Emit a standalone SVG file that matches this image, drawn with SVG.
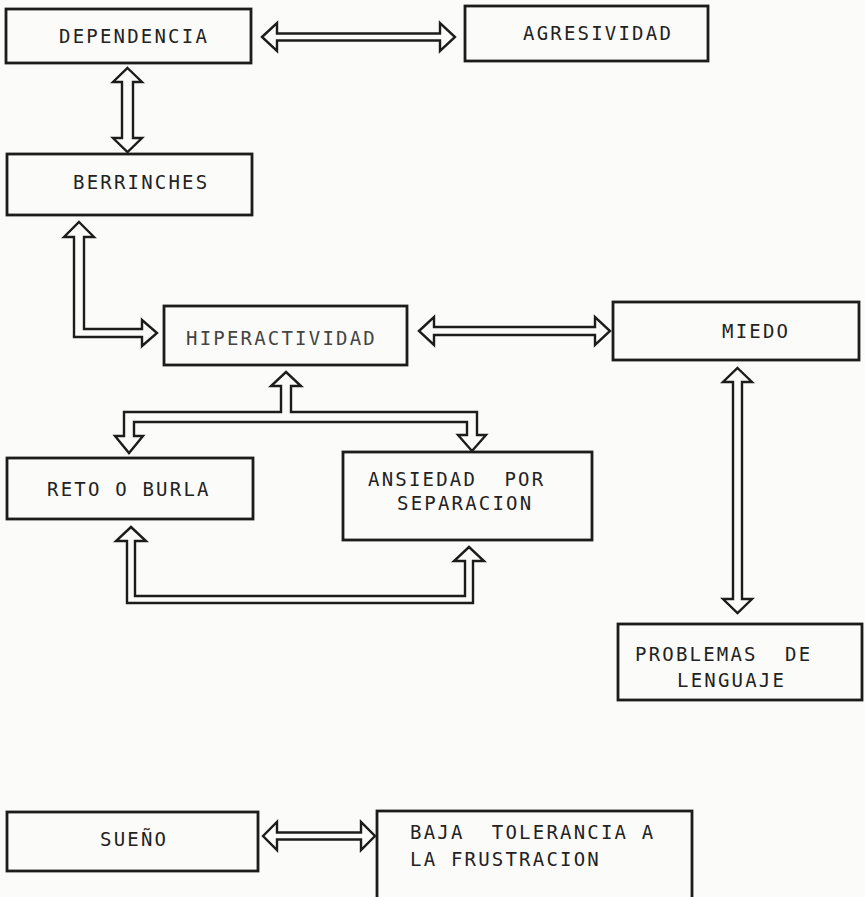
<svg xmlns="http://www.w3.org/2000/svg" width="865" height="897" viewBox="0 0 865 897">
<style>
.bx{fill:none;stroke:#1c1c1c;stroke-width:2.8}
.ar{fill:#fbfbf9;stroke:#1c1c1c;stroke-width:2.4;stroke-linejoin:miter}
.t{font-family:"DejaVu Sans Mono","Liberation Mono",monospace;font-size:19px;letter-spacing:2.2px;fill:#222}
</style>
<rect width="865" height="897" fill="#fbfbf9"/>
<g id="connectors">
<polygon class="ar" points="262,37 277,23 277,33.5 440,33.5 440,23 455,37 440,51 440,40.5 277,40.5 277,51"/>
<polygon class="ar" points="127.5,68 142,82 133,82 133,138 142,138 127.5,152 113,138 122,138 122,82 113,82"/>
<polygon class="ar" points="79,222 94,237 84,237 84,329 142,329 142,320 157,333 142,346 142,337 74,337 74,237 64,237"/>
<polygon class="ar" points="419,331 434,317 434,327 595,327 595,317 610,331 595,345 595,335 434,335 434,345"/>
<polygon class="ar" points="737.5,368 752,382 742,382 742,599 752,599 737.5,613 723,599 733,599 733,382 723,382"/>
<polygon class="ar" points="286,372 301,386 291,386 291,412 477,412 477,435 486,435 472,451 458,435 467,435 467,422 134,422 134,436 143,436 129,453 115,436 124,436 124,412 281,412 281,386 271,386"/>
<polygon class="ar" points="131,527 146,541 135,541 135,596 465,596 465,561 454,561 469,547 484,561 473,561 473,603 127,603 127,541 116,541"/>
<polygon class="ar" points="263,836 277,822 277,832.5 361,832.5 361,822 375,836 361,850 361,839.5 277,839.5 277,850"/>
</g>
<g id="dependencia"><rect class="bx" x="6" y="9" width="245" height="54"/><text class="t" x="59" y="43">DEPENDENCIA</text></g>
<g id="agresividad"><rect class="bx" x="465" y="6" width="243" height="55"/><text class="t" x="523" y="40">AGRESIVIDAD</text></g>
<g id="berrinches"><rect class="bx" x="7" y="154" width="245" height="61"/><text class="t" x="73" y="189">BERRINCHES</text></g>
<g id="hiperactividad"><rect class="bx" x="164" y="306" width="243" height="59"/><text class="t" x="186" y="345" style="fill:#444">HIPERACTIVIDAD</text></g>
<g id="miedo"><rect class="bx" x="613" y="302" width="246" height="58"/><text class="t" x="722" y="338">MIEDO</text></g>
<g id="reto"><rect class="bx" x="7" y="458" width="246" height="61"/><text class="t" x="47" y="496">RETO O BURLA</text></g>
<g id="ansiedad"><rect class="bx" x="343" y="452" width="249" height="88"/><text class="t" x="368" y="486" xml:space="preserve">ANSIEDAD  POR</text><text class="t" x="397" y="510">SEPARACION</text></g>
<g id="problemas"><rect class="bx" x="618" y="624" width="244" height="76"/><text class="t" x="635" y="661" xml:space="preserve">PROBLEMAS  DE</text><text class="t" x="677" y="687">LENGUAJE</text></g>
<g id="sueno"><rect class="bx" x="7" y="812" width="251" height="59"/><text class="t" x="100" y="846">SUEÑO</text></g>
<g id="baja"><rect class="bx" x="377" y="811" width="315" height="100"/><text class="t" x="410" y="839" xml:space="preserve">BAJA  TOLERANCIA A</text><text class="t" x="410" y="866">LA FRUSTRACION</text></g>
</svg>
